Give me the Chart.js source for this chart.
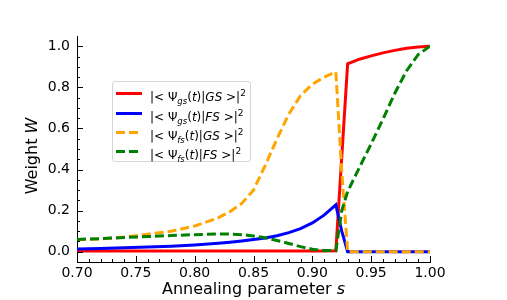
<!DOCTYPE html>
<html>
<head>
<meta charset="utf-8">
<script src="https://cdn.jsdelivr.net/npm/chart.js@4.4.1/dist/chart.umd.min.js"></script>
<style>
  body { margin: 0; background: #fff; }
  #wrap { position: relative; width: 507px; height: 300px; }
  #legend {
    position: absolute; left: 112px; top: 81px; width: 137px; height: 79px;
    border: 1px solid #d6d6d6; border-radius: 3px; background: rgba(255,255,255,0.85);
    font-family: "DejaVu Sans", sans-serif; font-size: 12px; color: #000;
  }
  .row { position: absolute; left: 0; height: 16px; line-height: 16px; white-space: nowrap; }
  .sw { position: absolute; left: 3px; top: 7px; width: 26px; height: 3px; }
  .lab { position: absolute; left: 37px; top: 0; }
  .lab sub { font-size: 8.5px; font-style: italic; vertical-align: -3px; }
  .lab sup { font-size: 9px; vertical-align: 5px; }
</style>
</head>
<body>
<div id="wrap">
  <canvas id="c" width="507" height="300"></canvas>
  <div id="legend">
    <div class="row" style="top:3px"><div class="sw" style="background:#ff0000"></div><span class="lab">|&lt; Ψ<sub>gs</sub>(<i>t</i>)|<i>GS</i> &gt;|<sup>2</sup></span></div>
    <div class="row" style="top:23px"><div class="sw" style="background:#0000ff"></div><span class="lab">|&lt; Ψ<sub>gs</sub>(<i>t</i>)|<i>FS</i> &gt;|<sup>2</sup></span></div>
    <div class="row" style="top:42px"><div class="sw" style="background:repeating-linear-gradient(to right,#ffa500 0 9px,transparent 9px 13px)"></div><span class="lab">|&lt; Ψ<sub>fs</sub>(<i>t</i>)|<i>GS</i> &gt;|<sup>2</sup></span></div>
    <div class="row" style="top:61px"><div class="sw" style="background:repeating-linear-gradient(to right,#008000 0 9px,transparent 9px 13px)"></div><span class="lab">|&lt; Ψ<sub>fs</sub>(<i>t</i>)|<i>FS</i> &gt;|<sup>2</sup></span></div>
  </div>
</div>
<script>
// annealing parameter s
var sVals = [0.70, 0.72, 0.74, 0.76, 0.78, 0.80, 0.82, 0.83, 0.84, 0.85, 0.86, 0.87, 0.88, 0.89, 0.90, 0.91, 0.92, 0.925, 0.93, 0.94, 0.95, 0.96, 0.97, 0.98, 0.99, 1.00];
var gsGS = [0.004, 0.004, 0.004, 0.004, 0.004, 0.004, 0.004, 0.004, 0.004, 0.004, 0.004, 0.004, 0.004, 0.004, 0.004, 0.004, 0.005, 0.46, 0.915, 0.937, 0.953, 0.968, 0.98, 0.99, 0.997, 1.0];
var gsFS = [0.013, 0.016, 0.019, 0.023, 0.027, 0.033, 0.041, 0.046, 0.052, 0.059, 0.067, 0.078, 0.093, 0.112, 0.14, 0.178, 0.228, 0.1, 0.0, 0.0, 0.0, 0.0, 0.0, 0.0, 0.0, 0.0];
var fsGS = [0.058, 0.062, 0.072, 0.085, 0.1, 0.125, 0.165, 0.195, 0.235, 0.3, 0.42, 0.55, 0.67, 0.76, 0.815, 0.85, 0.875, 0.39, 0.0, 0.0, 0.0, 0.0, 0.0, 0.0, 0.0, 0.0];
var fsFS = [0.06, 0.064, 0.069, 0.074, 0.079, 0.083, 0.086, 0.086, 0.083, 0.077, 0.068, 0.055, 0.04, 0.025, 0.012, 0.006, 0.005, 0.2, 0.293, 0.41, 0.525, 0.645, 0.77, 0.88, 0.96, 1.0];

var xTicks = [0.70, 0.75, 0.80, 0.85, 0.90, 0.95, 1.00];
var yTicks = [0.0, 0.2, 0.4, 0.6, 0.8, 1.0];

function pts(ys) {
  return sVals.map(function (s, i) { return { x: s, y: ys[i] }; });
}

// ticks pointing inward, major and minor
var inTicks = {
  id: 'inTicks',
  afterDraw: function (chart) {
    var ctx = chart.ctx, a = chart.chartArea;
    var xs = chart.scales.x, ys = chart.scales.y;
    ctx.save();
    ctx.strokeStyle = '#000';
    ctx.lineWidth = 1;
    ctx.beginPath();
    for (var i = 0; i <= 30; i++) {
      var v = 0.70 + i * 0.01;
      var px = Math.round(xs.getPixelForValue(v)) + 0.5;
      var len = (i % 5 === 0) ? 6 : 3;
      ctx.moveTo(px, a.bottom);
      ctx.lineTo(px, a.bottom - len);
    }
    for (var j = 0; j <= 20; j++) {
      var w = j * 0.05;
      var py = Math.round(ys.getPixelForValue(w)) + 0.5;
      var l2 = (j % 4 === 0) ? 6 : 3;
      ctx.moveTo(a.left, py);
      ctx.lineTo(a.left + l2, py);
    }
    ctx.stroke();

    // axis titles
    ctx.fillStyle = '#000';
    ctx.textBaseline = 'middle';
    var f1 = '16px "DejaVu Sans"', f2 = 'italic 16px "DejaVu Sans"';
    ctx.font = f1;
    var t1 = 'Annealing parameter ';
    var w1 = ctx.measureText(t1).width;
    ctx.font = f2;
    var w2 = ctx.measureText('s').width;
    var x0 = (a.left + a.right) / 2 - (w1 + w2) / 2;
    ctx.font = f1;
    ctx.textAlign = 'left';
    ctx.fillText(t1, x0, 290);
    ctx.font = f2;
    ctx.fillText('s', x0 + w1, 290);

    ctx.translate(33, (a.top + a.bottom) / 2 + 7);
    ctx.rotate(-Math.PI / 2);
    ctx.font = f1;
    var t3 = 'Weight ';
    var w3 = ctx.measureText(t3).width;
    ctx.font = f2;
    var w4 = ctx.measureText('W').width;
    ctx.font = f1;
    ctx.fillText(t3, -(w3 + w4) / 2, 0);
    ctx.font = f2;
    ctx.fillText('W', -(w3 + w4) / 2 + w3, 0);
    ctx.restore();
  }
};

var common = { pointRadius: 0, borderWidth: 3, fill: false, tension: 0 };

new Chart(document.getElementById('c').getContext('2d'), {
  type: 'line',
  data: {
    datasets: [
      Object.assign({ label: 'gsGS', data: pts(gsGS), borderColor: '#ff0000', order: 4 }, common),
      Object.assign({ label: 'gsFS', data: pts(gsFS), borderColor: '#0000ff', order: 3 }, common),
      Object.assign({ label: 'fsGS', data: pts(fsGS), borderColor: '#ffa500', borderDash: [9, 4], order: 2 }, common),
      Object.assign({ label: 'fsFS', data: pts(fsFS), borderColor: '#008000', borderDash: [9, 4], order: 1 }, common)
    ]
  },
  options: {
    responsive: false,
    animation: false,
    layout: { padding: { left: 0, top: 36, right: 77, bottom: 0 } },
    plugins: { legend: { display: false }, tooltip: { enabled: false } },
    scales: {
      x: {
        type: 'linear', min: 0.70, max: 1.00,
        afterFit: function (s) { s.height = 38; },
        afterBuildTicks: function (s) { s.ticks = xTicks.map(function (v) { return { value: v }; }); },
        grid: { display: false, drawTicks: false },
        border: { display: true, color: '#000', width: 1 },
        ticks: {
          padding: 3, color: '#000', font: { family: 'DejaVu Sans', size: 14 },
          callback: function (v) { return v.toFixed(2); }
        }
      },
      y: {
        type: 'linear', min: -0.05, max: 1.05,
        afterFit: function (s) { s.width = 77; },
        afterBuildTicks: function (s) { s.ticks = yTicks.map(function (v) { return { value: v }; }); },
        grid: { display: false, drawTicks: false },
        border: { display: true, color: '#000', width: 1 },
        ticks: {
          padding: 7, color: '#000', font: { family: 'DejaVu Sans', size: 14 },
          callback: function (v) { return v.toFixed(1); }
        }
      }
    }
  },
  plugins: [inTicks]
});
</script>
</body>
</html>
